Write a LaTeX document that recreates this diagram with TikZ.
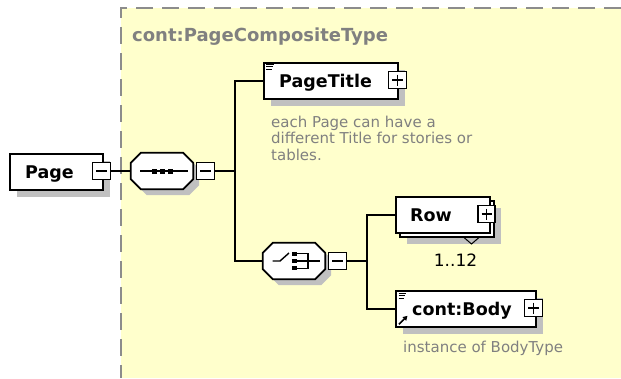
\documentclass[tikz,border=0pt]{standalone}
\usepackage{fontspec}
\setmainfont{DejaVu Sans}
\usetikzlibrary{calc,shadows,arrows.meta}
\definecolor{bgyel}{HTML}{FFFFCC}
\definecolor{shad}{HTML}{C0C0C0}
\definecolor{anngray}{HTML}{808080}
\definecolor{bordgray}{HTML}{8C8C8C}
\newcommand\octdraw[3]{%
  \path[#2] ($(#1.north west)+(10+#3,#3)$) -- ($(#1.north east)+(-10+#3,#3)$)
    -- ($(#1.north east)+(#3,10+#3)$) -- ($(#1.south east)+(#3,-10+#3)$)
    -- ($(#1.south east)+(-10+#3,#3)$) -- ($(#1.south west)+(10+#3,#3)$)
    -- ($(#1.south west)+(#3,-10+#3)$) -- ($(#1.north west)+(#3,10+#3)$) -- cycle;}
\begin{document}
\begin{tikzpicture}[x=1pt,y=-1pt,
  conn/.style={line width=1.8pt},
  box/.style={draw=black,fill=white,line width=1.8pt,inner sep=0pt,minimum height=36pt,anchor=north west},
  shbox/.style={box,drop shadow={shadow xshift=7pt,shadow yshift=-7pt,fill=shad,opacity=1}},
  expbox/.style={draw=black,fill=white,line width=1.5pt,inner sep=0pt,minimum width=18pt,minimum height=17pt},
  sign/.style={line width=1.4pt},
  holder/.style={inner sep=0pt,minimum width=62pt,minimum height=36pt},
  elabel/.style={font=\fontsize{17.5}{20}\selectfont\bfseries,inner sep=0pt,anchor=base west},
  ann/.style={font=\fontsize{15}{16.5}\selectfont,text=anngray,inner sep=0pt,anchor=base west},
  icon/.style={line width=1pt},
]
\useasboundingbox (0,0) rectangle (621,378);
\fill[white] (0,0) rectangle (621,378);
\fill[bgyel] (120.5,7.5) rectangle (621,378);
\draw[bordgray,line width=2pt,dash pattern=on 17pt off 9pt] (621,7.5) -- (120.5,7.5) -- (120.5,378);
\node[font=\fontsize{18}{20}\selectfont\bfseries,text=anngray,inner sep=0pt,anchor=base west] (title) at (132,41.5) {cont:PageCompositeType};

% bus coordinates
\coordinate (bus1) at (235,0);
\coordinate (bus2) at (367,0);

% Page
\node[shbox,minimum width=93pt] (page) at (9,153) {};
\node[elabel] (pagelbl) at ($(page.west)+(16,6.4)$) {Page};
\node[expbox] (pagem) at (101.5,171) {};
\draw[sign] ($(pagem.center)+(-5.5,0)$) -- ($(pagem.center)+(5.5,0)$);

% sequence
\node[holder] (seq) at (162,171) {};
\octdraw{seq}{fill=shad}{6}
\octdraw{seq}{draw=black,fill=white,line width=1.8pt}{0}
\draw[line width=1.4pt] ($(seq.center)+(-22,0)$) -- ($(seq.center)+(26,0)$);
\foreach \dx in {-8,0,8} \fill ($(seq.center)+(\dx-2.5,-2.5)$) rectangle ++(5,5);
\node[expbox] (seqm) at (205.5,171) {};
\draw[sign] ($(seqm.center)+(-5.5,0)$) -- ($(seqm.center)+(5.5,0)$);

% PageTitle
\node[shbox,minimum width=134pt] (pt) at (263,62) {};
\node[elabel] (ptlbl) at ($(pt.west)+(16,6.4)$) {PageTitle};
\draw[icon] ($(pt.north west)+(3.3,2.8)$) -- ++(8,0);
\draw[icon] ($(pt.north west)+(3.3,4.9)$) -- ++(7,0);
\draw[icon] ($(pt.north west)+(3.3,7)$) -- ++(6,0);
\node[expbox] (ptm) at (397.5,80) {};
\draw[sign] ($(ptm.center)+(-5.5,0)$) -- ($(ptm.center)+(5.5,0)$);
\draw[sign] ($(ptm.center)+(0,-5.5)$) -- ($(ptm.center)+(0,5.5)$);
\node[ann] (ptann1) at (271,127) {each Page can have a};
\node[ann] (ptann2) at (271,143.5) {different Title for stories or};
\node[ann] (ptann3) at (271,160) {tables.};

% choice
\node[holder] (ch) at (294,261) {};
\octdraw{ch}{fill=shad}{6}
\octdraw{ch}{draw=black,fill=white,line width=1.8pt}{0}
\draw[line width=1.4pt] ($(ch.center)+(-21.5,0)$) -- ($(ch.center)+(-14,0)$) -- ($(ch.center)+(-5,-8)$);
\foreach \dy in {-7,0,7} \fill ($(ch.center)+(-2,\dy-2.3)$) rectangle ++(4.6,4.6);
\draw[line width=1.4pt] ($(ch.center)+(3,-7.3)$) -- ($(ch.center)+(14,-7.3)$) -- ($(ch.center)+(14,7.3)$) -- ($(ch.center)+(3,7.3)$);
\draw[line width=1.4pt] ($(ch.center)+(3,0)$) -- ($(ch.center)+(26,0)$);
\node[expbox] (chm) at (337.5,261) {};
\draw[sign] ($(chm.center)+(-5.5,0)$) -- ($(chm.center)+(5.5,0)$);

% Row
\node[shbox,minimum width=94pt] (rowback) at (399,200) {};
\node[box,minimum width=94pt] (row) at (395,196) {};
\node[elabel] (rowlbl) at ($(row.west)+(15,6.4)$) {Row};
\node[expbox,minimum width=17pt] (rowm) at (486.5,214) {};
\draw[sign] ($(rowm.center)+(-5,0)$) -- ($(rowm.center)+(5,0)$);
\draw[sign] ($(rowm.center)+(0,-5.5)$) -- ($(rowm.center)+(0,5.5)$);
\draw[line width=1pt] (464,237.5) -- (471.5,244) -- (479,237.5);
\node[font=\fontsize{17}{20}\selectfont,inner sep=0pt,anchor=base] (rowocc) at (455.5,266) {1..12};

% Body
\node[shbox,minimum width=140pt] (body) at (395,290) {};
\node[elabel] (bodylbl) at ($(body.west)+(17,6.4)$) {cont:Body};
\draw[icon] ($(body.north west)+(3.7,3.3)$) -- ++(7,0);
\draw[icon] ($(body.north west)+(3.7,5.8)$) -- ++(6,0);
\draw[icon] ($(body.north west)+(3.7,8.3)$) -- ++(5,0);
\draw[line width=1.6pt,-{Triangle[length=4.5pt,width=5pt]}] ($(body.south west)+(4,-3.5)$) -- ($(body.south west)+(12.5,-12)$);
\node[expbox] (bodym) at (533.5,308) {};
\draw[sign] ($(bodym.center)+(-5.5,0)$) -- ($(bodym.center)+(5.5,0)$);
\draw[sign] ($(bodym.center)+(0,-5.5)$) -- ($(bodym.center)+(0,5.5)$);
\node[ann] (bodyann) at (403,352.5) {instance of BodyType};

% connectors
\draw[conn] (pagem.east) -- (seq.west);
\draw[conn] (seqm.east) -- (seqm.east -| bus1);
\draw[conn] (pt.west) -- (pt.west -| bus1) -- (ch.west -| bus1) -- (ch.west);
\draw[conn] (chm.east) -- (chm.east -| bus2);
\draw[conn] (row.west) -- (row.west -| bus2) -- (body.west -| bus2) -- (body.west);
\end{tikzpicture}
\end{document}
